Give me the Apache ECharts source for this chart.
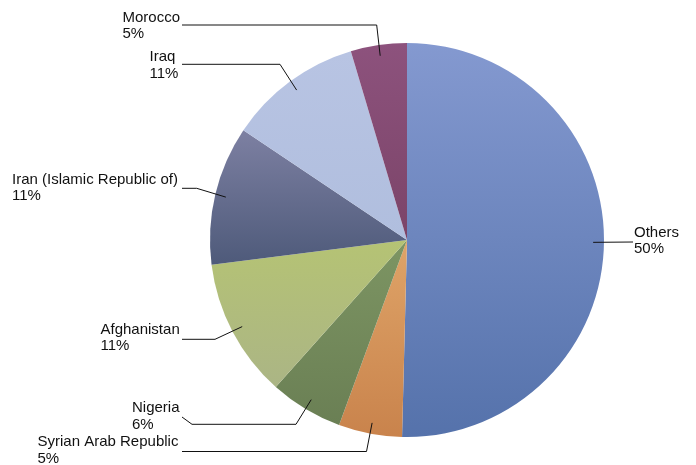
<!DOCTYPE html>
<html>
<head>
<meta charset="utf-8">
<script src="https://cdn.jsdelivr.net/npm/echarts@6/dist/echarts.min.js"></script>
<style>
  html, body { margin: 0; padding: 0; background: #ffffff; }
  #chart { width: 696px; height: 465px; }
</style>
</head>
<body>
<div id="chart"></div>
<script>
// ---- Data ----
var categories = ['Others', 'Syrian Arab Republic', 'Nigeria', 'Afghanistan', 'Iran (Islamic Republic of)', 'Iraq', 'Morocco'];
var shares = [50.4, 5.2, 6.0, 11.4, 11.4, 11.0, 4.6];

// ---- Styles ----
var topColors =    ['#8499d0', '#dfa468', '#7d9563', '#b5c374', '#7d80a2', '#b8c4e3', '#8d527d'];
var bottomColors = ['#5572ab', '#c9834c', '#6a7f54', '#abb585', '#4e5a7a', '#b0bede', '#7b4468'];

var CX = 407, CY = 240, R = 197;
var FONT = 15, LH = 16.5;

// label box (left/top) and leader-line guide points (excluding the point inside the slice)
var labelSpecs = [
  { x: 634,   y: 224.5, guide: [[633, 242]], side: 'right' },
  { x: 37.5,  y: 434,   guide: [[182, 451.5], [366.5, 451.5]] },
  { x: 132,   y: 400,   guide: [[182, 417], [192, 424.3], [296, 424.3]] },
  { x: 100.5, y: 321.2, guide: [[182, 339.3], [215, 339.3]] },
  { x: 12,    y: 171.2, guide: [[182, 188.3], [196.7, 188.3]] },
  { x: 149.5, y: 49,    guide: [[182, 64.3], [280, 64.3]] },
  { x: 122.5, y: 9.5,   guide: [[182, 25], [376.7, 25]] }
];

var total = shares.reduce(function (a, b) { return a + b; }, 0);
function insidePoint(i) {
  var cum = 0;
  for (var k = 0; k < i; k++) cum += shares[k];
  var a = (cum + shares[i] / 2) / total * 2 * Math.PI;
  var rr = R * 0.945;
  return [CX + rr * Math.sin(a), CY - rr * Math.cos(a)];
}

var sliceData = categories.map(function (name, i) {
  return {
    name: name,
    value: shares[i],
    itemStyle: {
      color: new echarts.graphic.LinearGradient(0, 0, 0, 1, [
        { offset: 0, color: topColors[i] },
        { offset: 1, color: bottomColors[i] }
      ])
    }
  };
});
var labelData = categories.map(function (name, i) {
  return { name: name, value: shares[i] };
});

var common = {
  type: 'pie',
  center: [CX, CY],
  radius: R,
  startAngle: 90,
  clockwise: true,
  avoidLabelOverlap: false,
  silent: true,
  emphasis: { disabled: true }
};

var chart = echarts.init(document.getElementById('chart'), null, { renderer: 'canvas' });
chart.setOption({
  animation: false,
  backgroundColor: '#ffffff',
  series: [
    Object.assign({}, common, {
      z: 2,
      itemStyle: { borderWidth: 0 },
      label: { show: false },
      labelLine: { show: false },
      data: sliceData
    }),
    Object.assign({}, common, {
      z: 5,
      itemStyle: { color: 'rgba(0,0,0,0)', borderWidth: 0 },
      label: {
        show: true,
        position: 'outside',
        formatter: function (p) { return p.name + '\n' + Math.round(p.percent) + '%'; },
        fontFamily: 'Liberation Sans, Arial, sans-serif',
        fontSize: FONT,
        lineHeight: LH,
        color: '#111111',
        align: 'left'
      },
      labelLine: {
        show: true,
        smooth: false,
        lineStyle: { color: '#111111', width: 1 }
      },
      labelLayout: function (params) {
        var i = params.dataIndex;
        var spec = labelSpecs[i];
        var inside = insidePoint(i);
        var pts = spec.side === 'right'
          ? [inside].concat(spec.guide)
          : [inside].concat(spec.guide.slice().reverse());
        return {
          x: spec.x,
          y: spec.y,
          align: 'left',
          verticalAlign: 'top',
          labelLinePoints: pts
        };
      },
      data: labelData
    })
  ]
});
</script>
</body>
</html>
